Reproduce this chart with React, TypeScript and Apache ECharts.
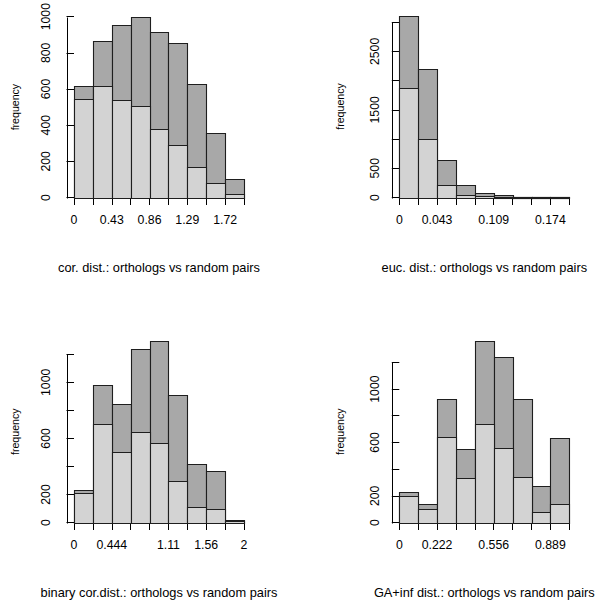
import React, { useEffect, useRef } from "react";
import * as echarts from "echarts";

// ---- data (frequencies per bin, 9 bins each) ----
const corTotal = [618, 864, 952, 1000, 916, 853, 626, 358, 101];
const corOrtho = [545, 615, 541, 505, 378, 290, 169, 81, 22];
const corTickLabels = ["0", "", "0.43", "", "0.86", "", "1.29", "", "1.72", ""];
const corYTicks = [0, 200, 400, 600, 800, 1000];
const corYLabels = [0, 200, 400, 600, 800, 1000];

const eucTotal = [3114, 2200, 640, 215, 76, 40, 12, 6, 4];
const eucOrtho = [1869, 1000, 211, 46, 20, 10, 4, 2, 1];
const eucTickLabels = ["0", "", "0.043", "", "", "0.109", "", "", "0.174", ""];
const eucYTicks = [0, 500, 1000, 1500, 2000, 2500, 3000];
const eucYLabels = [0, 500, 1500, 2500];

const binTotal = [233, 979, 848, 1238, 1295, 912, 419, 371, 19];
const binOrtho = [207, 705, 502, 648, 567, 298, 114, 93, 8];
const binTickLabels = ["0", "", "0.444", "", "", "1.11", "", "1.56", "", "2"];
const binYTicks = [0, 200, 400, 600, 800, 1000, 1200];
const binYLabels = [0, 200, 600, 1000];

const gaTotal = [232, 142, 922, 547, 1360, 1242, 925, 272, 632];
const gaOrtho = [200, 102, 637, 330, 740, 555, 342, 75, 135];
const gaTickLabels = ["0", "", "0.222", "", "", "0.556", "", "", "0.889", ""];
const gaYTicks = [0, 200, 400, 600, 800, 1000, 1200];
const gaYLabels = [0, 200, 600, 1000];

const titles = [
  "cor. dist.: orthologs vs random pairs",
  "euc. dist.: orthologs vs random pairs",
  "binary cor.dist.: orthologs vs random pairs",
  "GA+inf dist.: orthologs vs random pairs",
];

const FONT = "'Liberation Sans', Arial, Helvetica, sans-serif";
const DARK = "#a8a8a8";
const LIGHT = "#d3d3d3";
const EDGE = "#1e1e1e";

const panels = [
  { total: corTotal, ortho: corOrtho, xl: corTickLabels, yt: corYTicks, yl: corYLabels, grid: { left: 74, top: 15.5, width: 170, height: 182 }, ym: 15 },
  { total: eucTotal, ortho: eucOrtho, xl: eucTickLabels, yt: eucYTicks, yl: eucYLabels, grid: { left: 399.3, top: 15.5, width: 170, height: 182 }, ym: 11 },
  { total: binTotal, ortho: binOrtho, xl: binTickLabels, yt: binYTicks, yl: binYLabels, grid: { left: 74, top: 341, width: 170, height: 181.5 }, ym: 15 },
  { total: gaTotal, ortho: gaOrtho, xl: gaTickLabels, yt: gaYTicks, yl: gaYLabels, grid: { left: 399.3, top: 341, width: 170, height: 181.5 }, ym: 11 },
];

const Y_OFFSET = 7;

function barRender(fill: string) {
  return (params: any, api: any) => {
    const i = api.value(0);
    const v = api.value(1);
    const p0 = api.coord([i, 0]);
    const p1 = api.coord([i + 1, v]);
    const x0 = Math.round(p0[0]) + 0.5;
    const x1 = Math.round(p1[0]) + 0.5;
    const yb = Math.round(p0[1]) + 0.5;
    const yt = Math.round(p1[1]) + 0.5;
    return {
      type: "rect",
      shape: { x: x0, y: yt, width: x1 - x0, height: yb - yt },
      style: { fill, stroke: EDGE, lineWidth: 1.1 },
    };
  };
}

function yLineRender(params: any, api: any) {
  const top = api.value(1);
  const p0 = api.coord([0, 0]);
  const p1 = api.coord([0, top]);
  const x = Math.round(p0[0] - Y_OFFSET) + 0.5;
  return {
    type: "line",
    shape: { x1: x, y1: Math.round(p0[1]) + 0.5, x2: x, y2: Math.round(p1[1]) + 0.5 },
    style: { stroke: "#000", lineWidth: 1 },
  };
}

export default function App() {
  const ref = useRef<HTMLDivElement>(null);
  useEffect(() => {
    if (!ref.current) return;
    const chart = echarts.init(ref.current, undefined, { renderer: "svg" });
    const grids: any[] = [];
    const xAxes: any[] = [];
    const yAxes: any[] = [];
    const series: any[] = [];
    panels.forEach((p, k) => {
      grids.push({ ...p.grid, containLabel: false });
      xAxes.push({
        type: "value",
        gridIndex: k,
        min: 0,
        max: p.total.length,
        interval: 1,
        offset: 2,
        axisLine: { show: true, lineStyle: { color: "#000", width: 1 } },
        axisTick: { show: true, length: 7.5, lineStyle: { color: "#000", width: 1 } },
        splitLine: { show: false },
        axisLabel: {
          show: true,
          margin: 14,
          color: "#000",
          fontFamily: FONT,
          fontSize: 12.3,
          hideOverlap: false,
          showMinLabel: true,
          showMaxLabel: true,
          formatter: (v: number) => p.xl[Math.round(v)] ?? "",
        },
        name: titles[k],
        nameLocation: "middle",
        nameGap: 61,
        nameTextStyle: { color: "#000", fontFamily: FONT, fontSize: 12.8 },
      });
      yAxes.push({
        type: "value",
        gridIndex: k,
        min: 0,
        max: Math.max(...p.total),
        offset: Y_OFFSET,
        axisLine: { show: false },
        axisTick: { show: true, length: 7.5, customValues: p.yt, lineStyle: { color: "#000", width: 1 } },
        splitLine: { show: false },
        axisLabel: {
          show: true,
          customValues: p.yl,
          rotate: 90,
          margin: p.ym,
          color: "#000",
          fontFamily: FONT,
          fontSize: 12.3,
          hideOverlap: false,
          formatter: (v: number) => String(v),
        },
        name: "frequency",
        nameLocation: "middle",
        nameGap: 47,
        nameTextStyle: { color: "#000", fontFamily: FONT, fontSize: 10.6 },
      });
      series.push({
        type: "custom",
        xAxisIndex: k,
        yAxisIndex: k,
        clip: false,
        renderItem: barRender(DARK),
        data: p.total.map((v, i) => [i, v]),
      });
      series.push({
        type: "custom",
        xAxisIndex: k,
        yAxisIndex: k,
        clip: false,
        renderItem: barRender(LIGHT),
        data: p.ortho.map((v, i) => [i, v]),
      });
      series.push({
        type: "custom",
        xAxisIndex: k,
        yAxisIndex: k,
        clip: false,
        renderItem: yLineRender,
        data: [[0, p.yt[p.yt.length - 1]]],
      });
    });
    chart.setOption({
      animation: false,
      backgroundColor: "#fff",
      textStyle: { fontFamily: FONT },
      grid: grids,
      xAxis: xAxes,
      yAxis: yAxes,
      series,
    });
    return () => chart.dispose();
  }, []);
  return (
    <div
      ref={ref}
      style={{ position: "absolute", left: 0, top: 0, width: 600, height: 604, background: "#fff" }}
    />
  );
}
